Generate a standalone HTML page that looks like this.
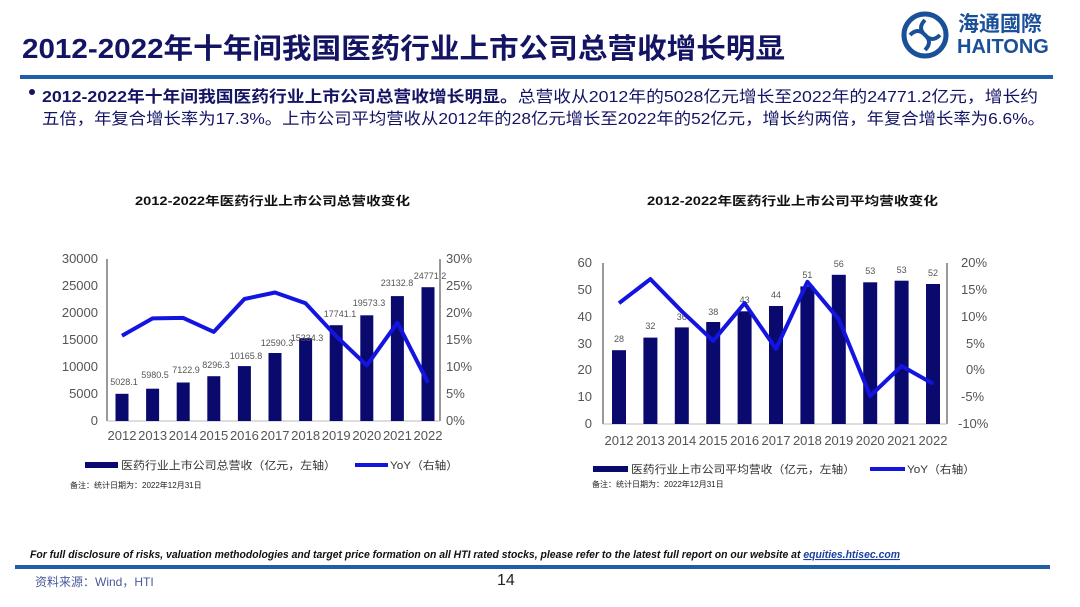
<!DOCTYPE html>
<html><head><meta charset="utf-8"><style>
html,body{margin:0;padding:0;background:#fff;}
svg{display:block;font-family:"Liberation Sans","Noto Sans CJK SC",sans-serif;}
</style></head><body>
<svg width="1080" height="607" viewBox="0 0 1080 607" xmlns="http://www.w3.org/2000/svg">
<rect width="1080" height="607" fill="#fff"/>
<!-- header -->
<text x="22" y="58" font-size="28" font-weight="bold" fill="#141464" textLength="763" lengthAdjust="spacingAndGlyphs">2012-2022年十年间我国医药行业上市公司总营收增长明显</text>
<rect x="20" y="75" width="1033" height="4" fill="#1f5fa8"/>
<!-- logo -->
<circle cx="925" cy="35" r="21" fill="none" stroke="#1a4f9a" stroke-width="5"/>
<path d="M925 20 q-8 8 0 15 q8 7 0 15 M910 35 q8 -8 15 0 q7 8 15 0" fill="none" stroke="#1a4f9a" stroke-width="4"/>
<text x="958" y="31" font-size="21" font-weight="bold" fill="#1a4f9a">海通國際</text>
<text x="957" y="53" font-size="20" font-weight="bold" fill="#1a4f9a">HAITONG</text>
<!-- bullet -->
<circle cx="32" cy="92" r="3" fill="#141464"/>
<text x="42" y="102" font-size="16" fill="#141464" textLength="996" lengthAdjust="spacingAndGlyphs"><tspan font-weight="bold">2012-2022年十年间我国医药行业上市公司总营收增长明显。</tspan>总营收从2012年的5028亿元增长至2022年的24771.2亿元，增长约</text>
<text x="42" y="124" font-size="16" fill="#141464" textLength="1003" lengthAdjust="spacingAndGlyphs">五倍，年复合增长率为17.3%。上市公司平均营收从2012年的28亿元增长至2022年的52亿元，增长约两倍，年复合增长率为6.6%。</text>
<!-- chart titles -->
<text x="135" y="205" font-size="12" font-weight="bold" fill="#111" textLength="275" lengthAdjust="spacingAndGlyphs">2012-2022年医药行业上市公司总营收变化</text>
<text x="647" y="205" font-size="12" font-weight="bold" fill="#111" textLength="291" lengthAdjust="spacingAndGlyphs">2012-2022年医药行业上市公司平均营收变化</text>

<!-- LEFT CHART -->
<g stroke="#333" stroke-width="1" fill="none">
<line x1="107" y1="259" x2="107" y2="421"/><line x1="440" y1="259" x2="440" y2="421"/>
<line x1="107" y1="421" x2="440" y2="421" stroke="#bbb"/>
</g>
<g font-size="13" fill="#555" text-anchor="end">
<text x="98" y="425">0</text><text x="98" y="398">5000</text><text x="98" y="371">10000</text><text x="98" y="344">15000</text><text x="98" y="317">20000</text><text x="98" y="290">25000</text><text x="98" y="263">30000</text>
</g>
<g font-size="13" fill="#555">
<text x="446" y="425">0%</text><text x="446" y="398">5%</text><text x="446" y="371">10%</text><text x="446" y="344">15%</text><text x="446" y="317">20%</text><text x="446" y="290">25%</text><text x="446" y="263">30%</text>
</g>
<g fill="#0a0a6e">
<rect x="115.5" y="393.8" width="13" height="27.2"/><rect x="146.1" y="388.7" width="13" height="32.3"/><rect x="176.7" y="382.5" width="13" height="38.5"/><rect x="207.3" y="376.2" width="13" height="44.8"/><rect x="237.9" y="366.1" width="13" height="54.9"/><rect x="268.5" y="353" width="13" height="68"/><rect x="299.1" y="338.2" width="13" height="82.8"/><rect x="329.7" y="325.2" width="13" height="95.8"/><rect x="360.3" y="315.3" width="13" height="105.7"/><rect x="390.9" y="296.1" width="13" height="124.9"/><rect x="421.5" y="287.2" width="13" height="133.8"/>
</g>
<g font-size="9" fill="#555" text-anchor="middle">
<text x="124" y="385">5028.1</text><text x="155" y="378">5980.5</text><text x="186" y="373">7122.9</text><text x="216" y="368">8296.3</text><text x="246" y="359">10165.8</text><text x="277" y="346">12590.3</text><text x="307" y="341">15334.3</text><text x="340" y="317">17741.1</text><text x="369" y="306">19573.3</text><text x="397" y="286">23132.8</text><text x="430" y="279">24771.2</text>
</g>
<polyline points="122,335.7 152.6,318.4 183.2,317.9 213.8,331.9 244.4,299 275,292.5 305.6,303.3 336.2,336.2 366.8,365.4 397.4,322.7 428,382.7" fill="none" stroke="#1414e0" stroke-width="4" stroke-linejoin="round"/>
<g font-size="13" fill="#555" text-anchor="middle">
<text x="122" y="440">2012</text><text x="152.6" y="440">2013</text><text x="183.2" y="440">2014</text><text x="213.8" y="440">2015</text><text x="244.4" y="440">2016</text><text x="275" y="440">2017</text><text x="305.6" y="440">2018</text><text x="336.2" y="440">2019</text><text x="366.8" y="440">2020</text><text x="397.4" y="440">2021</text><text x="428" y="440">2022</text>
</g>
<rect x="85" y="462" width="33" height="6" fill="#0a0a6e"/>
<text x="121" y="469" font-size="11" fill="#333" textLength="215" lengthAdjust="spacingAndGlyphs">医药行业上市公司总营收（亿元，左轴）</text>
<line x1="355" y1="465" x2="388" y2="465" stroke="#1414e0" stroke-width="4"/>
<text x="390" y="469" font-size="11" fill="#333" textLength="68" lengthAdjust="spacingAndGlyphs">YoY（右轴）</text>
<text x="70" y="488" font-size="8" fill="#222">备注：统计日期为：2022年12月31日</text>

<!-- RIGHT CHART -->
<g stroke="#333" stroke-width="1" fill="none">
<line x1="603" y1="263" x2="603" y2="424"/><line x1="947" y1="263" x2="947" y2="424"/>
<line x1="603" y1="424" x2="947" y2="424" stroke="#bbb"/>
</g>
<g font-size="13" fill="#555" text-anchor="end">
<text x="592" y="428">0</text><text x="592" y="401">10</text><text x="592" y="374">20</text><text x="592" y="348">30</text><text x="592" y="321">40</text><text x="592" y="294">50</text><text x="592" y="267">60</text>
</g>
<g font-size="13" fill="#555">
<text x="958" y="428">-10%</text><text x="961" y="401">-5%</text><text x="966" y="374">0%</text><text x="966" y="348">5%</text><text x="961" y="321">10%</text><text x="961" y="294">15%</text><text x="961" y="267">20%</text>
</g>
<g fill="#0a0a6e">
<rect x="612" y="350.2" width="14" height="73.8"/><rect x="643.4" y="337.6" width="14" height="86.4"/><rect x="674.8" y="327.4" width="14" height="96.6"/><rect x="706.2" y="322" width="14" height="102"/><rect x="737.6" y="311.3" width="14" height="112.7"/><rect x="769" y="306" width="14" height="118"/><rect x="800.4" y="286.4" width="14" height="137.6"/><rect x="831.8" y="274.8" width="14" height="149.2"/><rect x="863.2" y="282.3" width="14" height="141.7"/><rect x="894.6" y="280.7" width="14" height="143.3"/><rect x="926" y="284" width="14" height="140"/>
</g>
<g font-size="9" fill="#555" text-anchor="middle">
<text x="619" y="342">28</text><text x="650.4" y="329">32</text><text x="681.8" y="320">36</text><text x="713.2" y="315">38</text><text x="744.6" y="303">43</text><text x="776" y="298">44</text><text x="807.4" y="278">51</text><text x="838.8" y="267">56</text><text x="870.2" y="274">53</text><text x="901.6" y="273">53</text><text x="933" y="276">52</text>
</g>
<polyline points="619,303.2 650.4,279.1 681.8,311.3 713.2,340.8 744.6,303.2 776,348.9 807.4,281.8 838.8,319.3 870.2,395.9 901.6,366 933,383.7" fill="none" stroke="#1414e0" stroke-width="4" stroke-linejoin="round"/>
<g font-size="13" fill="#555" text-anchor="middle">
<text x="619" y="445">2012</text><text x="650.4" y="445">2013</text><text x="681.8" y="445">2014</text><text x="713.2" y="445">2015</text><text x="744.6" y="445">2016</text><text x="776" y="445">2017</text><text x="807.4" y="445">2018</text><text x="838.8" y="445">2019</text><text x="870.2" y="445">2020</text><text x="901.6" y="445">2021</text><text x="933" y="445">2022</text>
</g>
<rect x="593" y="466" width="35" height="6" fill="#0a0a6e"/>
<text x="631" y="473" font-size="11" fill="#333" textLength="224" lengthAdjust="spacingAndGlyphs">医药行业上市公司平均营收（亿元，左轴）</text>
<line x1="870" y1="469" x2="905" y2="469" stroke="#1414e0" stroke-width="4"/>
<text x="907" y="473" font-size="11" fill="#333" textLength="68" lengthAdjust="spacingAndGlyphs">YoY（右轴）</text>
<text x="592" y="487" font-size="8" fill="#222">备注：统计日期为：2022年12月31日</text>

<!-- footer -->
<text x="30" y="558" font-size="11" font-style="italic" font-weight="bold" fill="#111" textLength="870" lengthAdjust="spacingAndGlyphs">For full disclosure of risks, valuation methodologies and target price formation on all HTI rated stocks, please refer to the latest full report on our website at <tspan fill="#1a3fa0" text-decoration="underline">equities.htisec.com</tspan></text>
<rect x="15" y="565" width="1035" height="4" fill="#1f5fa8"/>
<text x="35" y="586" font-size="12" fill="#4a5a9a">资料来源：Wind，HTI</text>
<text x="497" y="585" font-size="16" fill="#222">14</text>
</svg>
</body></html>
